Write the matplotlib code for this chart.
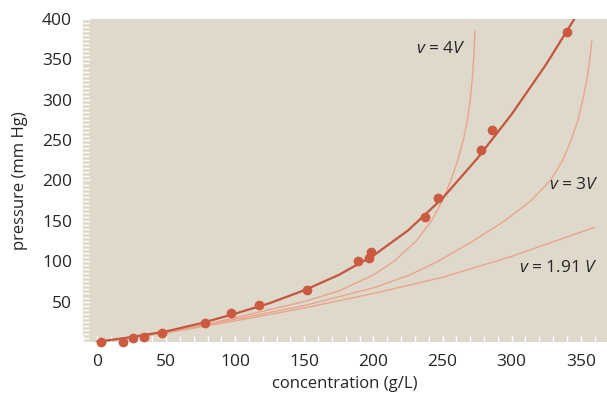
import numpy as np
import matplotlib.pyplot as plt
from matplotlib.ticker import MultipleLocator

plt.rcParams['font.family'] = ['Open Sans', 'DejaVu Sans']
plt.rcParams['mathtext.fontset'] = 'custom'
plt.rcParams['mathtext.rm'] = 'Open Sans'
plt.rcParams['mathtext.it'] = 'Open Sans:italic'

# measured points
conc = [3, 19, 26, 34, 47, 78, 97, 117, 152, 189, 197, 198, 237, 247, 278, 286, 340]
pres = [0, 0, 5, 6, 11, 23, 36, 46, 64, 100, 104, 111, 155, 178, 238, 263, 384]

# fitted curve
fit_x = [0, 25, 50, 75, 100, 125, 150, 175, 200, 225, 250, 275, 300, 325, 350]
fit_y = [0, 6, 13, 23, 35, 48, 64, 83, 107, 138, 178, 227, 282, 344, 413]

# model curves for different excluded volumes
v4_x = [0, 25, 50, 75, 100, 125, 150, 175, 190, 200, 215, 231, 242, 250, 256, 261,
        265, 268, 270, 271.5, 272.5, 273.5]
v4_y = [0, 5, 12, 20, 30, 40, 50, 63, 75, 83, 100, 125, 150, 175, 200, 225,
        250, 275, 300, 325, 350, 385]

v3_x = [0, 50, 100, 150, 200, 225, 247, 272, 295, 314, 328, 337, 343, 348, 351.5,
        354.5, 356.5, 358]
v3_y = [0, 12, 28, 45, 67, 82, 100, 125, 150, 175, 200, 225, 250, 275, 300,
        325, 350, 373]

v191_x = [0, 50, 100, 150, 200, 250, 300, 360]
v191_y = [0, 11, 26, 42, 60, 80, 106, 142]

fig = plt.figure(figsize=(6.07, 3.98), dpi=100)
ax = fig.add_axes([0.137, 0.141, 0.863, 0.811])
ax.set_facecolor('#dfd9cb')

thin = '#e9a58c'
for xs, ys in [(v4_x, v4_y), (v3_x, v3_y), (v191_x, v191_y)]:
    ax.plot(xs, ys, color=thin, lw=1.0)

ax.plot(fit_x, fit_y, color='#c4553e', lw=1.6)
ax.plot(conc, pres, 'o', color='#cc5a40', ms=6, clip_on=False, zorder=5)

txt = '#262626'
ax.text(249, 363, '$v$ = 4$V$', fontsize=12.5, color=txt, ha='center', va='center')
ax.text(327, 194, '$v$ = 3$V$', fontsize=12.5, color=txt, ha='left', va='center')
ax.text(305, 91, '$v$ = 1.91 $V$', fontsize=12.5, color=txt, ha='left', va='center')

ax.set_xlim(-10, 369)
ax.set_ylim(0, 400)
ax.set_xticks([0, 50, 100, 150, 200, 250, 300, 350])
ax.set_yticks([50, 100, 150, 200, 250, 300, 350, 400])
ax.xaxis.set_minor_locator(MultipleLocator(10))
ax.yaxis.set_minor_locator(MultipleLocator(5))
for s in ax.spines.values():
    s.set_visible(False)
ax.tick_params(which='both', direction='in', color='white', width=1)
ax.tick_params(which='major', length=5)
ax.tick_params(which='minor', length=4)
ax.tick_params(axis='y', which='major', pad=8, labelsize=12.5, labelcolor=txt)
ax.tick_params(axis='x', which='major', pad=9, labelsize=12.5, labelcolor=txt)

ax.set_xlabel('concentration (g/L)', fontsize=12, color=txt, labelpad=4)
ax.set_ylabel('pressure (mm Hg)', fontsize=12, color=txt, labelpad=10)

plt.savefig('out.png', dpi=100)
